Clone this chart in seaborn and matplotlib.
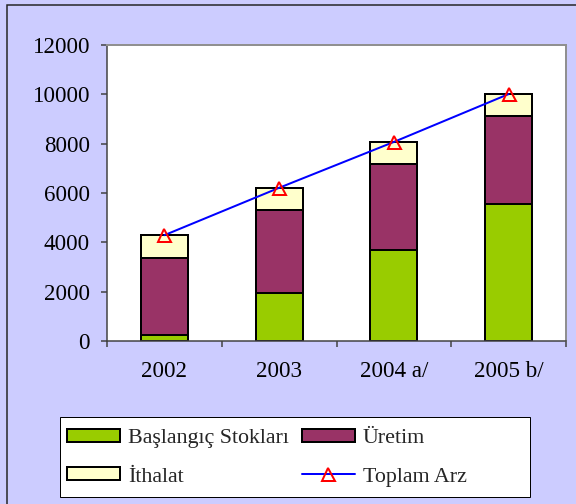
import matplotlib
matplotlib.use("Agg")
import matplotlib.pyplot as plt
import seaborn as sns
import pandas as pd
import numpy as np
from matplotlib.patches import Patch, Rectangle
from matplotlib.lines import Line2D

years = ["2002", "2003", "2004 a/", "2005 b/"]
baslangic = [240, 1930, 3690, 5550]
uretim = [3140, 3370, 3490, 3570]
ithalat = [910, 910, 890, 890]
toplam = [4290, 6210, 8070, 10010]

C_GREEN = "#99CC00"
C_PURPLE = "#993366"
C_CREAM = "#FFFFCC"
BG = "#CCCCFF"

sns.set_theme(style="white")
plt.rcParams["font.family"] = ["Liberation Serif", "DejaVu Serif"]

df = pd.DataFrame({"year": years, "b": baslangic, "u": uretim, "i": ithalat, "t": toplam})
df["bu"] = df["b"] + df["u"]
df["bui"] = df["bu"] + df["i"]

fig = plt.figure(figsize=(8, 7), dpi=72, facecolor=BG)
ax = fig.add_axes([107/576, 1 - 341/504, (566-107)/576, (341-45)/504])
ax.set_facecolor("white")

kw = dict(edgecolor="black", linewidth=2, width=0.41, saturation=1, ax=ax)
sns.barplot(data=df, x="year", y="bui", color=C_CREAM, **kw)
sns.barplot(data=df, x="year", y="bu", color=C_PURPLE, **kw)
sns.barplot(data=df, x="year", y="b", color=C_GREEN, **kw)

xpos = np.arange(len(years))
sns.lineplot(x=xpos, y=df["t"].values, ax=ax, color="#0000FF", linewidth=2,
             marker="^", markersize=13, markerfacecolor="none",
             markeredgecolor="#FF0000", markeredgewidth=2)

ax.set_xlim(-0.5, 3.5)
ax.set_ylim(0, 12000)
ax.set_yticks(np.arange(0, 12001, 2000))
ax.set_yticklabels([str(v) for v in range(0, 12001, 2000)])
ax.set_xticks(xpos)
ax.set_xticklabels(years)
ax.set_xticks(np.arange(-0.5, 3.6, 1), minor=True)
ax.set_xlabel("")
ax.set_ylabel("")
ax.tick_params(axis="x", which="major", length=0, pad=20, labelsize=23, colors="black")
ax.tick_params(axis="x", which="minor", length=6, width=1.5, color="#404040", direction="out", bottom=True)
ax.tick_params(axis="y", length=6, width=1.5, color="#404040", direction="out", left=True, pad=11, labelsize=23)
for lab in ax.get_xticklabels() + ax.get_yticklabels():
    lab.set_color("black")

for s in ["left", "bottom"]:
    ax.spines[s].set_color("#404040")
    ax.spines[s].set_linewidth(1.5)
for s in ["top", "right"]:
    ax.spines[s].set_color("#909090")
    ax.spines[s].set_linewidth(2)

# outer chart border
fig.patches.append(Rectangle((7/576, -0.1), 1.2, 0.1 + (504-5)/504, transform=fig.transFigure,
                             fill=False, edgecolor="#222222", linewidth=1.5))

# legend frame
fig.patches.append(Rectangle((60/576, 1 - 497/504), (530-60)/576, (497-417)/504,
                             transform=fig.transFigure, facecolor="white",
                             edgecolor="black", linewidth=1))

handles = [
    Patch(facecolor=C_GREEN, edgecolor="black", linewidth=2, label="Başlangıç Stokları"),
    Patch(facecolor=C_CREAM, edgecolor="black", linewidth=2, label="İthalat"),
    Patch(facecolor=C_PURPLE, edgecolor="black", linewidth=2, label="Üretim"),
    Line2D([0], [0], color="#0000FF", linewidth=2, marker="^", markersize=13,
           markerfacecolor="none", markeredgecolor="#FF0000", markeredgewidth=2, label="Toplam Arz"),
]
leg = fig.legend(handles=handles, ncol=2, loc="upper left",
                 bbox_to_anchor=(67/576, 1 - 429/504), frameon=False,
                 fontsize=22, handlelength=2.4, handleheight=0.5,
                 handletextpad=0.36, columnspacing=0.6, labelspacing=0.88,
                 borderpad=0, borderaxespad=0)

fig.savefig("out.png", dpi=72, facecolor=BG)
